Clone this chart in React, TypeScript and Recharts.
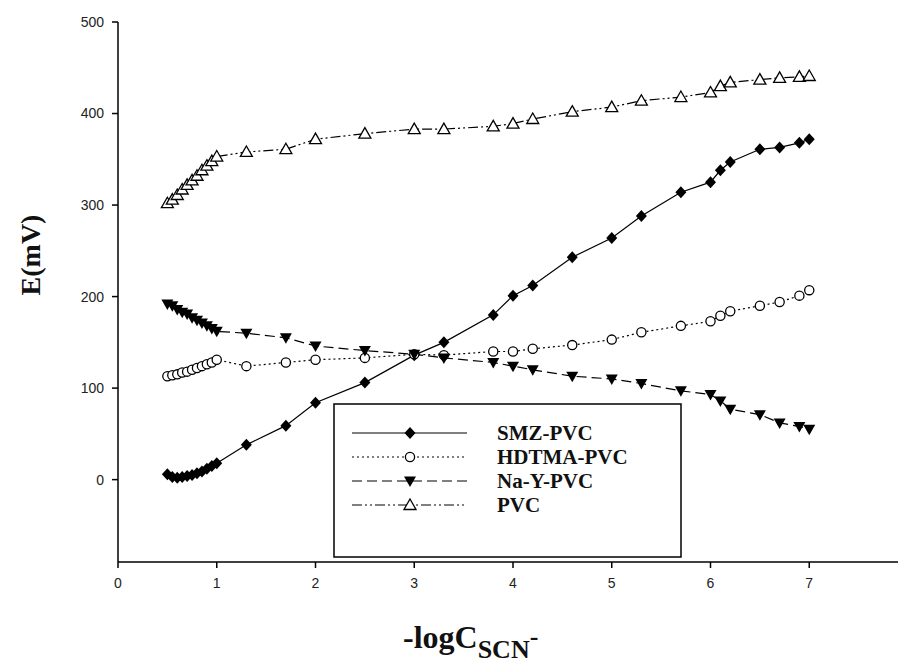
import React from "react";
import { LineChart, Line, XAxis, YAxis, Label } from "recharts";

const xValues = [0.5, 0.55, 0.6, 0.65, 0.7, 0.75, 0.8, 0.85, 0.9, 0.95, 1.0, 1.3, 1.7, 2.0, 2.5, 3.0, 3.3, 3.8, 4.0, 4.2, 4.6, 5.0, 5.3, 5.7, 6.0, 6.1, 6.2, 6.5, 6.7, 6.9, 7.0];
const smzPvc = [6, 3, 2, 3, 4, 5, 7, 9, 12, 15, 18, 38, 59, 84, 106, 136, 150, 180, 201, 212, 243, 264, 288, 314, 325, 338, 347, 361, 363, 368, 372];
const hdtmaPvc = [113, 114, 115, 117, 118, 120, 122, 124, 126, 128, 131, 124, 128, 131, 133, 137, 136, 140, 140, 143, 147, 153, 161, 168, 173, 179, 184, 190, 194, 201, 207];
const naYPvc = [192, 190, 186, 183, 181, 177, 174, 171, 168, 165, 162, 160, 155, 146, 141, 137, 133, 128, 124, 120, 113, 110, 105, 97, 93, 86, 77, 71, 62, 58, 55];
const pvc = [302, 306, 311, 317, 322, 327, 332, 338, 343, 348, 353, 358, 361, 372, 378, 383, 383, 386, 389, 394, 402, 407, 414, 418, 423, 430, 434, 437, 439, 440, 441];

const xTicks = [0, 1, 2, 3, 4, 5, 6, 7, 8];
const yTicks = [0, 100, 200, 300, 400, 500];

const data = xValues.map((x, i) => ({ x, smz: smzPvc[i], hdtma: hdtmaPvc[i], nay: naYPvc[i], pvc: pvc[i] }));

const SERIF = "'Liberation Serif', 'Times New Roman', serif";
const SANS = "'Liberation Sans', Arial, sans-serif";

const dashes = { smz: undefined, hdtma: "2 3", nay: "10 5", pvc: "10 3 2 3 2 3" } as const;

function Diamond({ cx, cy }: { cx: number; cy: number }) {
  return <path d={`M${cx},${cy - 6}L${cx + 5.5},${cy}L${cx},${cy + 6}L${cx - 5.5},${cy}Z`} fill="#000" />;
}
function Circle({ cx, cy }: { cx: number; cy: number }) {
  return <circle cx={cx} cy={cy} r={4.6} fill="#fff" stroke="#000" strokeWidth={1.3} />;
}
function TriDown({ cx, cy }: { cx: number; cy: number }) {
  return <path d={`M${cx - 6},${cy - 4.5}L${cx + 6},${cy - 4.5}L${cx},${cy + 6}Z`} fill="#000" />;
}
function TriUp({ cx, cy }: { cx: number; cy: number }) {
  return <path d={`M${cx},${cy - 6}L${cx + 6},${cy + 4.5}L${cx - 6},${cy + 4.5}Z`} fill="#fff" stroke="#000" strokeWidth={1.3} />;
}

const dot = (Shape: any) => (p: any) => <Shape key={`d-${p.index}`} cx={p.cx} cy={p.cy} />;

const legendItems = [
  { name: "SMZ-PVC", dash: dashes.smz, Shape: Diamond },
  { name: "HDTMA-PVC", dash: dashes.hdtma, Shape: Circle },
  { name: "Na-Y-PVC", dash: dashes.nay, Shape: TriDown },
  { name: "PVC", dash: dashes.pvc, Shape: TriUp },
];

function LegendBox() {
  return (
    <svg width={350} height={156} style={{ position: "absolute", left: 325, top: 395 }}>
      <rect x={1} y={1} width={347} height={153} fill="#fff" stroke="#000" strokeWidth={1.5} />
      {legendItems.map((it, i) => {
        const y = 30 + i * 24;
        return (
          <g key={it.name}>
            <line x1={19} x2={134} y1={y} y2={y} stroke="#000" strokeWidth={1.2} strokeDasharray={it.dash} />
            <it.Shape cx={77} cy={y} />
            <text x={164} y={y} dominantBaseline="central" fontFamily={SERIF} fontWeight="bold" fontSize={21} fill="#111">
              {it.name}
            </text>
          </g>
        );
      })}
    </svg>
  );
}

const tickStyle = { fill: "#222", fontFamily: SANS, fontSize: 14 };
const axisLine = { stroke: "#000", strokeWidth: 1.5 };

export default function App() {
  return (
    <div style={{ position: "relative", width: 898, height: 656, overflow: "hidden" }}>
      <LineChart width={910} height={656} data={data} margin={{ top: 14, right: 10, left: 50, bottom: 72 }}>
        <XAxis
          dataKey="x"
          type="number"
          domain={[0, 8]}
          ticks={xTicks}
          tick={tickStyle}
          axisLine={axisLine}
          tickLine={axisLine}
          tickSize={6}
          tickMargin={10}
          height={30}
        >
          <Label
            content={() => (
              <text x={395} y={640} fontFamily={SERIF} fontWeight="bold" fontSize={32} fill="#111">
                <tspan>-logC</tspan>
                <tspan dy={10} fontSize={26}>SCN</tspan>
                <tspan dy={-13} fontSize={26}>-</tspan>
              </text>
            )}
          />
        </XAxis>
        <YAxis
          type="number"
          domain={[-90, 500]}
          ticks={yTicks}
          tick={tickStyle}
          axisLine={axisLine}
          tickLine={axisLine}
          tickSize={6}
          tickMargin={8}
          width={60}
        >
          <Label
            content={() => (
              <text
                x={22}
                y={247}
                transform="rotate(-90 22 247)"
                textAnchor="middle"
                dominantBaseline="central"
                fontFamily={SERIF}
                fontWeight="bold"
                fontSize={28}
                fill="#111"
              >
                E(mV)
              </text>
            )}
          />
        </YAxis>
        <Line dataKey="smz" stroke="#000" strokeWidth={1.2} dot={dot(Diamond)} isAnimationActive={false} />
        <Line dataKey="hdtma" stroke="#000" strokeWidth={1.2} strokeDasharray={dashes.hdtma} dot={dot(Circle)} isAnimationActive={false} />
        <Line dataKey="nay" stroke="#000" strokeWidth={1.2} strokeDasharray={dashes.nay} dot={dot(TriDown)} isAnimationActive={false} />
        <Line dataKey="pvc" stroke="#000" strokeWidth={1.2} strokeDasharray={dashes.pvc} dot={dot(TriUp)} isAnimationActive={false} />
      </LineChart>
      <LegendBox />
    </div>
  );
}
